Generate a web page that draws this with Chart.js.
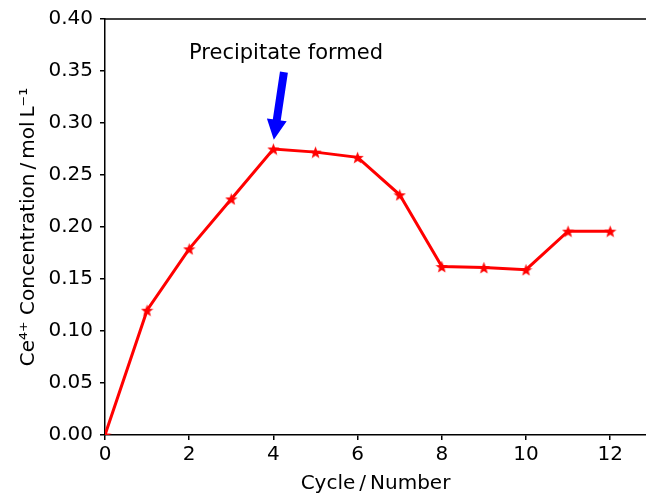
<!DOCTYPE html>
<html>
<head>
<meta charset="utf-8">
<script src="https://cdn.jsdelivr.net/npm/chart.js@4/dist/chart.umd.min.js"></script>
<style>
  html, body { margin: 0; padding: 0; background: #fff; overflow: hidden; }
  #wrap { width: 646px; height: 497px; position: relative; }
  canvas { display: block; }
</style>
</head>
<body>
<div id="wrap"><canvas id="lineChart"></canvas></div>
<script>
// data
var cycles = [0, 1, 2, 3, 4, 5, 6, 7, 8, 9, 10, 11, 12];
var ceConc = [0.000, 0.120, 0.179, 0.227, 0.275, 0.272, 0.267, 0.231, 0.162, 0.161, 0.159, 0.196, 0.196];
var xTicks = [0, 2, 4, 6, 8, 10, 12];
var yTicks = [0, 0.05, 0.10, 0.15, 0.20, 0.25, 0.30, 0.35, 0.40];
var noteText = 'Precipitate formed';
var noteXY = [4.30, 0.362];   // text centre / baseline
var arrowFrom = [4.25, 0.349];
var arrowTo = [4.01, 0.284];

var fontFam = '"DejaVu Sans", sans-serif';

// filled five-point star like matplotlib '*'
function makeStar(size, color) {
    var c = document.createElement('canvas');
    c.width = size; c.height = size;
    var g = c.getContext('2d');
    var cx = size / 2, cy = size / 2 + size * 0.05;
    var ro = size / 2, ri = ro * 0.42;
    g.beginPath();
    for (var i = 0; i < 10; i++) {
        var r = i % 2 === 0 ? ro : ri;
        var a = -Math.PI / 2 + i * Math.PI / 5;
        g.lineTo(cx + r * Math.cos(a), cy + r * Math.sin(a));
    }
    g.closePath();
    g.fillStyle = color;
    g.fill();
    return c;
}
var starImg = makeStar(13, '#ff0000');

// top frame line, arrow and note
var extras = {
    id: 'extras',
    afterDraw: function (chart) {
        var ctx = chart.ctx, area = chart.chartArea;
        var xs = chart.scales.x, ys = chart.scales.y;
        ctx.save();
        ctx.strokeStyle = '#000';
        ctx.lineWidth = 1.5;
        ctx.beginPath();
        ctx.moveTo(area.left, area.top);
        ctx.lineTo(area.right, area.top);
        ctx.stroke();

        // arrow
        var x1 = xs.getPixelForValue(arrowFrom[0]), y1 = ys.getPixelForValue(arrowFrom[1]);
        var x2 = xs.getPixelForValue(arrowTo[0]), y2 = ys.getPixelForValue(arrowTo[1]);
        var ang = Math.atan2(y2 - y1, x2 - x1);
        var headLen = 20, headW = 10, shaftW = 4;
        var ux = Math.cos(ang), uy = Math.sin(ang);
        var px = -uy, py = ux;
        var bx = x2 - ux * headLen, by = y2 - uy * headLen;
        ctx.fillStyle = '#0000ff';
        ctx.beginPath();
        ctx.moveTo(x1 + px * shaftW, y1 + py * shaftW);
        ctx.lineTo(bx + px * shaftW, by + py * shaftW);
        ctx.lineTo(bx + px * headW, by + py * headW);
        ctx.lineTo(x2, y2);
        ctx.lineTo(bx - px * headW, by - py * headW);
        ctx.lineTo(bx - px * shaftW, by - py * shaftW);
        ctx.lineTo(x1 - px * shaftW, y1 - py * shaftW);
        ctx.closePath();
        ctx.fill();

        // note
        ctx.fillStyle = '#000';
        ctx.font = '21px ' + fontFam;
        ctx.textAlign = 'center';
        ctx.textBaseline = 'alphabetic';
        ctx.fillText(noteText, xs.getPixelForValue(noteXY[0]), ys.getPixelForValue(noteXY[1]));
        ctx.restore();
    }
};

var ctxLine = document.getElementById('lineChart');
var myLineChart = new Chart(ctxLine, {
    type: 'line',
    data: {
        labels: cycles,
        datasets: [{
            data: cycles.map(function (c, i) { return { x: c, y: ceConc[i] }; }),
            borderColor: '#ff0000',
            backgroundColor: '#ff0000',
            borderWidth: 3,
            pointStyle: starImg,
            pointRadius: 6,
            pointHoverRadius: 6,
            tension: 0,
            fill: false
        }]
    },
    options: {
        responsive: true,
        maintainAspectRatio: false,
        animation: false,
        layout: { autoPadding: false, padding: { top: 19, right: 0, left: 0, bottom: 0 } },
        plugins: {
            legend: { display: false },
            tooltip: { enabled: false }
        },
        scales: {
            x: {
                type: 'linear',
                min: 0,
                max: 12.85,
                afterBuildTicks: function (scale) {
                    scale.ticks = xTicks.map(function (v) { return { value: v }; });
                },
                afterFit: function (scale) {
                    scale.height = 62;
                    scale.paddingRight = 0;
                    scale.paddingLeft = 0;
                },
                grid: { drawOnChartArea: false, drawTicks: true, tickLength: 5, color: '#000', lineWidth: 1.5 },
                border: { display: true, color: '#000', width: 1.5 },
                ticks: {
                    color: '#000',
                    padding: 3,
                    maxRotation: 0,
                    font: { family: fontFam, size: 20 },
                    callback: function (v) { return String(v); }
                },
                title: {
                    display: true,
                    text: 'Cycle\u2009/\u2009Number',
                    color: '#000',
                    font: { family: fontFam, size: 20 },
                    padding: { top: 0, bottom: 1 }
                }
            },
            y: {
                min: 0,
                max: 0.40,
                afterBuildTicks: function (scale) {
                    scale.ticks = yTicks.map(function (v) { return { value: v }; });
                },
                afterFit: function (scale) { scale.width = 105; },
                grid: { drawOnChartArea: false, drawTicks: true, tickLength: 5, color: '#000', lineWidth: 1.5 },
                border: { display: true, color: '#000', width: 1.5 },
                ticks: {
                    color: '#000',
                    padding: 7,
                    font: { family: fontFam, size: 20 },
                    callback: function (v) { return v.toFixed(2); }
                },
                title: {
                    display: true,
                    text: 'Ce\u2074\u207A Concentration\u2009/\u2009mol\u2009L\u207B\u00B9',
                    color: '#000',
                    font: { family: fontFam, size: 20 },
                    padding: { top: 17, bottom: 0 }
                }
            }
        }
    },
    plugins: [extras]
});
</script>
</body>
</html>
